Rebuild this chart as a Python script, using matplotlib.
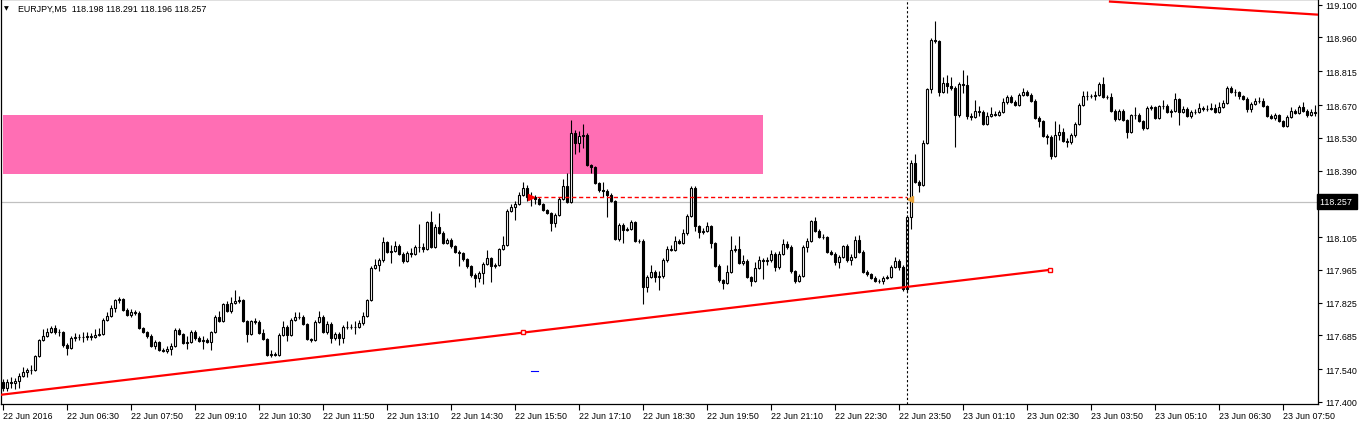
import numpy as np
import matplotlib.pyplot as plt
from matplotlib.patches import Rectangle
from matplotlib.transforms import blended_transform_factory

# EURJPY M5 bars, 22 Jun 2016 05:10 onwards (one bar per 5 minutes)
first_open = 117.486
closes = [
    117.460, 117.486, 117.482, 117.490, 117.511, 117.529, 117.537, 117.537, 117.597, 117.666,
    117.683, 117.700, 117.717, 117.700, 117.700, 117.644, 117.631, 117.674, 117.678, 117.678,
    117.678, 117.683, 117.678, 117.687, 117.691, 117.751, 117.769, 117.803, 117.837, 117.841,
    117.794, 117.773, 117.786, 117.781, 117.717, 117.700, 117.683, 117.640, 117.657, 117.623,
    117.618, 117.627, 117.640, 117.708, 117.691, 117.653, 117.657, 117.700, 117.674, 117.661,
    117.666, 117.657, 117.700, 117.764, 117.747, 117.820, 117.790, 117.824, 117.833, 117.837,
    117.747, 117.691, 117.747, 117.743, 117.696, 117.670, 117.601, 117.606, 117.601, 117.687,
    117.721, 117.687, 117.751, 117.764, 117.764, 117.734, 117.670, 117.666, 117.743, 117.764,
    117.700, 117.734, 117.674, 117.691, 117.674, 117.721, 117.721, 117.721, 117.721, 117.738,
    117.769, 117.837, 117.974, 117.987, 118.008, 118.085, 118.042, 118.047, 118.068, 118.034,
    118.004, 118.038, 118.034, 118.064, 118.064, 118.055, 118.171, 118.064, 118.150, 118.124,
    118.081, 118.094, 118.068, 118.042, 118.038, 118.012, 117.982, 117.944, 117.931, 117.952,
    117.991, 118.017, 117.982, 117.987, 118.055, 118.072, 118.218, 118.235, 118.248, 118.287,
    118.317, 118.278, 118.278, 118.270, 118.248, 118.222, 118.209, 118.167, 118.201, 118.270,
    118.325, 118.257, 118.552, 118.509, 118.539, 118.543, 118.415, 118.406, 118.338, 118.308,
    118.304, 118.287, 118.261, 118.098, 118.158, 118.137, 118.141, 118.171, 118.090, 118.090,
    117.893, 117.935, 117.957, 117.935, 117.940, 118.008, 118.055, 118.051, 118.090, 118.081,
    118.124, 118.196, 118.317, 118.154, 118.128, 118.132, 118.154, 118.081, 117.982, 117.922,
    117.910, 117.957, 118.051, 118.055, 117.995, 118.004, 117.935, 117.918, 117.974, 118.008,
    118.004, 118.008, 118.034, 117.978, 118.034, 118.077, 118.064, 117.961, 117.918, 117.940,
    118.064, 118.090, 118.175, 118.132, 118.107, 118.107, 118.042, 118.034, 118.000, 118.021,
    118.068, 118.008, 118.021, 118.094, 118.042, 117.957, 117.948, 117.931, 117.918, 117.918,
    117.931, 117.935, 117.978, 118.004, 117.978, 117.884, 118.192, 118.424, 118.342, 118.329,
    118.509, 118.740, 118.950, 118.946, 118.727, 118.766, 118.753, 118.745, 118.629, 118.762,
    118.758, 118.625, 118.620, 118.646, 118.642, 118.590, 118.625, 118.633, 118.629, 118.642,
    118.685, 118.706, 118.685, 118.672, 118.715, 118.727, 118.715, 118.689, 118.616, 118.603,
    118.539, 118.535, 118.454, 118.543, 118.556, 118.518, 118.513, 118.543, 118.590, 118.672,
    118.710, 118.710, 118.710, 118.715, 118.762, 118.706, 118.706, 118.646, 118.612, 118.646,
    118.608, 118.556, 118.629, 118.629, 118.603, 118.573, 118.659, 118.663, 118.616, 118.668,
    118.668, 118.642, 118.646, 118.698, 118.642, 118.655, 118.625, 118.642, 118.642, 118.659,
    118.655, 118.655, 118.659, 118.642, 118.663, 118.680, 118.745, 118.727, 118.727, 118.710,
    118.698, 118.655, 118.676, 118.689, 118.689, 118.668, 118.625, 118.616, 118.629, 118.603,
    118.582, 118.620, 118.646, 118.638, 118.663, 118.646, 118.629, 118.642, 118.638,
]
highs = [
    117.500, 117.500, 117.505, 117.503, 117.525, 117.550, 117.545, 117.560, 117.600, 117.670,
    117.712, 117.718, 117.726, 117.730, 117.713, 117.705, 117.650, 117.683, 117.695, 117.692,
    117.700, 117.700, 117.695, 117.710, 117.716, 117.760, 117.785, 117.815, 117.842, 117.848,
    117.845, 117.800, 117.797, 117.795, 117.790, 117.722, 117.705, 117.690, 117.665, 117.660,
    117.630, 117.640, 117.652, 117.715, 117.718, 117.695, 117.680, 117.708, 117.706, 117.680,
    117.680, 117.672, 117.705, 117.770, 117.790, 117.825, 117.830, 117.848, 117.880, 117.855,
    117.842, 117.752, 117.752, 117.760, 117.750, 117.710, 117.675, 117.620, 117.615, 117.695,
    117.745, 117.728, 117.757, 117.785, 117.785, 117.770, 117.738, 117.675, 117.750, 117.790,
    117.770, 117.745, 117.740, 117.700, 117.698, 117.727, 117.745, 117.732, 117.745, 117.750,
    117.785, 117.842, 117.980, 118.010, 118.015, 118.107, 118.090, 118.070, 118.090, 118.075,
    118.040, 118.045, 118.060, 118.070, 118.160, 118.080, 118.176, 118.215, 118.160, 118.209,
    118.130, 118.100, 118.100, 118.072, 118.048, 118.042, 118.016, 117.986, 117.950, 117.960,
    118.000, 118.050, 118.022, 117.995, 118.060, 118.110, 118.225, 118.245, 118.258, 118.300,
    118.342, 118.330, 118.300, 118.285, 118.275, 118.252, 118.226, 118.214, 118.210, 118.276,
    118.355, 118.380, 118.605, 118.565, 118.560, 118.590, 118.552, 118.420, 118.410, 118.342,
    118.340, 118.310, 118.292, 118.265, 118.165, 118.165, 118.150, 118.180, 118.176, 118.098,
    118.095, 117.942, 117.985, 117.965, 117.960, 118.015, 118.065, 118.070, 118.110, 118.096,
    118.140, 118.202, 118.322, 118.322, 118.158, 118.145, 118.170, 118.158, 118.085, 117.988,
    117.928, 117.985, 118.110, 118.070, 118.110, 118.030, 118.010, 117.940, 118.000, 118.025,
    118.015, 118.020, 118.050, 118.040, 118.045, 118.095, 118.090, 118.070, 117.966, 117.948,
    118.070, 118.100, 118.180, 118.190, 118.140, 118.118, 118.112, 118.050, 118.040, 118.030,
    118.073, 118.075, 118.032, 118.110, 118.115, 118.048, 117.965, 117.952, 117.937, 117.928,
    117.940, 117.945, 117.985, 118.020, 118.010, 117.984, 118.200, 118.435, 118.460, 118.350,
    118.520, 118.745, 118.955, 119.030, 118.950, 118.790, 118.800, 118.790, 118.750, 118.768,
    118.820, 118.800, 118.635, 118.690, 118.665, 118.648, 118.640, 118.660, 118.645, 118.650,
    118.700, 118.715, 118.712, 118.692, 118.722, 118.745, 118.735, 118.720, 118.694, 118.622,
    118.608, 118.545, 118.540, 118.600, 118.590, 118.570, 118.530, 118.550, 118.596, 118.678,
    118.730, 118.730, 118.718, 118.730, 118.770, 118.790, 118.712, 118.720, 118.652, 118.652,
    118.652, 118.612, 118.634, 118.660, 118.635, 118.608, 118.665, 118.670, 118.668, 118.672,
    118.690, 118.675, 118.655, 118.720, 118.702, 118.665, 118.660, 118.650, 118.655, 118.680,
    118.668, 118.670, 118.680, 118.675, 118.685, 118.690, 118.750, 118.752, 118.740, 118.730,
    118.715, 118.705, 118.685, 118.700, 118.705, 118.700, 118.672, 118.630, 118.635, 118.633,
    118.607, 118.626, 118.660, 118.652, 118.670, 118.685, 118.652, 118.655, 118.670,
]
lows = [
    117.448, 117.448, 117.460, 117.455, 117.460, 117.505, 117.505, 117.520, 117.532, 117.592,
    117.660, 117.678, 117.695, 117.690, 117.680, 117.635, 117.600, 117.625, 117.660, 117.665,
    117.655, 117.665, 117.665, 117.672, 117.682, 117.685, 117.745, 117.765, 117.785, 117.825,
    117.790, 117.768, 117.762, 117.772, 117.712, 117.695, 117.672, 117.635, 117.625, 117.618,
    117.612, 117.610, 117.600, 117.635, 117.686, 117.648, 117.625, 117.650, 117.665, 117.655,
    117.628, 117.650, 117.620, 117.695, 117.740, 117.742, 117.785, 117.780, 117.818, 117.825,
    117.742, 117.655, 117.686, 117.735, 117.690, 117.665, 117.597, 117.590, 117.595, 117.596,
    117.682, 117.660, 117.682, 117.745, 117.755, 117.730, 117.665, 117.655, 117.660, 117.738,
    117.695, 117.690, 117.650, 117.665, 117.645, 117.650, 117.710, 117.712, 117.690, 117.715,
    117.730, 117.765, 117.832, 117.970, 117.962, 118.000, 118.037, 117.995, 118.040, 118.028,
    117.995, 117.998, 118.020, 118.028, 118.040, 118.040, 118.050, 118.060, 118.060, 118.118,
    118.075, 118.076, 118.060, 118.036, 117.980, 118.005, 117.975, 117.935, 117.890, 117.915,
    117.905, 117.985, 117.915, 117.975, 117.980, 118.050, 118.068, 118.213, 118.180, 118.243,
    118.282, 118.258, 118.240, 118.245, 118.242, 118.215, 118.203, 118.130, 118.150, 118.196,
    118.265, 118.250, 118.252, 118.460, 118.470, 118.485, 118.410, 118.380, 118.332, 118.300,
    118.275, 118.190, 118.255, 118.092, 118.090, 118.080, 118.130, 118.135, 118.085, 118.080,
    117.820, 117.870, 117.930, 117.915, 117.880, 117.930, 118.000, 118.045, 118.045, 118.075,
    118.075, 118.115, 118.190, 118.130, 118.100, 118.118, 118.125, 118.060, 117.976, 117.915,
    117.885, 117.905, 117.952, 118.040, 117.990, 117.985, 117.930, 117.895, 117.913, 117.968,
    117.925, 117.985, 118.000, 117.960, 117.970, 118.028, 118.055, 117.950, 117.910, 117.912,
    117.935, 118.040, 118.085, 118.125, 118.100, 118.098, 118.036, 118.028, 117.985, 117.975,
    118.015, 118.000, 117.985, 118.015, 118.036, 117.950, 117.940, 117.925, 117.912, 117.908,
    117.905, 117.925, 117.930, 117.972, 117.965, 117.875, 117.870, 118.140, 118.335, 118.300,
    118.322, 118.504, 118.720, 118.935, 118.710, 118.722, 118.720, 118.735, 118.490, 118.620,
    118.720, 118.610, 118.605, 118.615, 118.625, 118.585, 118.585, 118.620, 118.622, 118.625,
    118.635, 118.675, 118.680, 118.665, 118.668, 118.710, 118.708, 118.684, 118.610, 118.575,
    118.533, 118.505, 118.440, 118.450, 118.520, 118.510, 118.490, 118.505, 118.535, 118.585,
    118.665, 118.690, 118.700, 118.690, 118.710, 118.700, 118.698, 118.640, 118.600, 118.605,
    118.600, 118.530, 118.550, 118.610, 118.598, 118.565, 118.568, 118.650, 118.610, 118.610,
    118.655, 118.635, 118.620, 118.640, 118.585, 118.636, 118.618, 118.615, 118.630, 118.637,
    118.645, 118.645, 118.650, 118.636, 118.637, 118.657, 118.675, 118.720, 118.710, 118.695,
    118.690, 118.640, 118.640, 118.670, 118.680, 118.660, 118.618, 118.610, 118.608, 118.598,
    118.575, 118.578, 118.615, 118.630, 118.633, 118.640, 118.620, 118.625, 118.625,
]

time_labels = ['22 Jun 2016', '22 Jun 06:30', '22 Jun 07:50', '22 Jun 09:10', '22 Jun 10:30',
               '22 Jun 11:50', '22 Jun 13:10', '22 Jun 14:30', '22 Jun 15:50', '22 Jun 17:10',
               '22 Jun 18:30', '22 Jun 19:50', '22 Jun 21:10', '22 Jun 22:30', '22 Jun 23:50',
               '23 Jun 01:10', '23 Jun 02:30', '23 Jun 03:50', '23 Jun 05:10', '23 Jun 06:30',
               '23 Jun 07:50']
price_ticks = [119.100, 118.960, 118.815, 118.670, 118.530, 118.390,
               118.105, 117.965, 117.825, 117.685, 117.540, 117.400]

bid = 118.257
header = 'EURJPY,M5  118.198 118.291 118.196 118.257'

# objects drawn on the chart: (bar, price)
zone = (0, 190, 118.376, 118.629)
trend_low = [(-0.75, 117.430), (261.75, 117.965)]
trend_low_marks = [(130, 117.700), (261.75, 117.965)]
trend_high = [(276.75, 119.113), (328.75, 119.057)]
order_line = (131.75, 226, 118.276)
vline_bar = 226

plt.rcParams['font.family'] = ['Liberation Sans', 'DejaVu Sans']

opens = [first_open] + closes[:-1]
o = np.array(opens)
c = np.array(closes)
h = np.array(highs)
l = np.array(lows)
x = np.arange(len(c))

fig = plt.figure(figsize=(13.62, 4.27), dpi=100)
ax = fig.add_axes([1 / 1362, 22 / 427, 1317 / 1362, 405 / 427])
ax.set_xlim(-0.5, 328.75)
ax.set_ylim(117.391, 119.124)

ax.add_patch(Rectangle((zone[0], zone[2]), zone[1] - zone[0], zone[3] - zone[2],
                       facecolor='#FF6EB4', edgecolor='none', zorder=1))
ax.axhline(bid, color='#C0C0C0', lw=0.9, zorder=1)

# candles
ax.vlines(x, l, h, color='black', lw=0.8, zorder=3)
up = c >= o
lo = np.minimum(o, c)
ht = np.abs(c - o)
ax.bar(x[up], ht[up], bottom=lo[up], width=0.5, facecolor='white',
       edgecolor='black', lw=0.8, zorder=4)
ax.bar(x[~up], ht[~up], bottom=lo[~up], width=0.5, facecolor='black',
       edgecolor='black', lw=0.8, zorder=4)

# trend lines
tx, ty = zip(*trend_low)
ax.plot(tx, ty, color='red', lw=1.6, zorder=5)
mx, my = zip(*trend_low_marks)
ax.plot(mx, my, ls='none', marker='s', ms=3.5, mfc='white', mec='red', mew=1, zorder=6)
tx, ty = zip(*trend_high)
ax.plot(tx, ty, color='red', lw=1.6, zorder=5)

# pending order line and arrows
ax.plot([order_line[0], order_line[1]], [order_line[2], order_line[2]],
        color='red', lw=1.0, ls=(0, (3, 2)), zorder=5)
ax.plot([order_line[0] + 0.3], [order_line[2]], marker='>', color='red', ms=4, zorder=6)
ax.plot([order_line[1] + 0.7], [order_line[2] - 0.006], marker='<', color='#E8A33A',
        ms=4.5, zorder=6)
ax.plot([132, 133.75], [117.533, 117.533], color='blue', lw=0.8, zorder=5)

ax.axvline(vline_bar, color='black', lw=0.8, ls=(0, (2, 2)), zorder=6)

# axes styling
for s in ax.spines.values():
    s.set_linewidth(0.9)
ax.yaxis.tick_right()
ax.set_yticks(price_ticks)
ax.set_yticklabels([f'{p:.3f}' for p in price_ticks])
ax.tick_params(axis='y', direction='out', length=3, width=0.8, pad=2, labelsize=6.4)
ax.set_xticks(np.arange(len(time_labels)) * 16)
ax.set_xticklabels(time_labels, ha='left')
ax.tick_params(axis='x', direction='out', length=4, width=0.8, pad=1, labelsize=6.4)

trans = blended_transform_factory(ax.transAxes, ax.transData)
ax.text(1.0015, bid, f'{bid:.3f}' + ' ', transform=trans, color='white', fontsize=6.4,
        va='center', ha='left', clip_on=False, zorder=10,
        bbox=dict(boxstyle='square,pad=0.3', facecolor='black', edgecolor='black'))

fig.text(4 / 1362, 1 - 9 / 427, '\u25bc', fontsize=4.5, va='center', ha='left',
         family='DejaVu Sans')
fig.text(18 / 1362, 1 - 9 / 427, header, fontsize=6.4, va='center', ha='left')

fig.savefig('out.png', dpi=100)
